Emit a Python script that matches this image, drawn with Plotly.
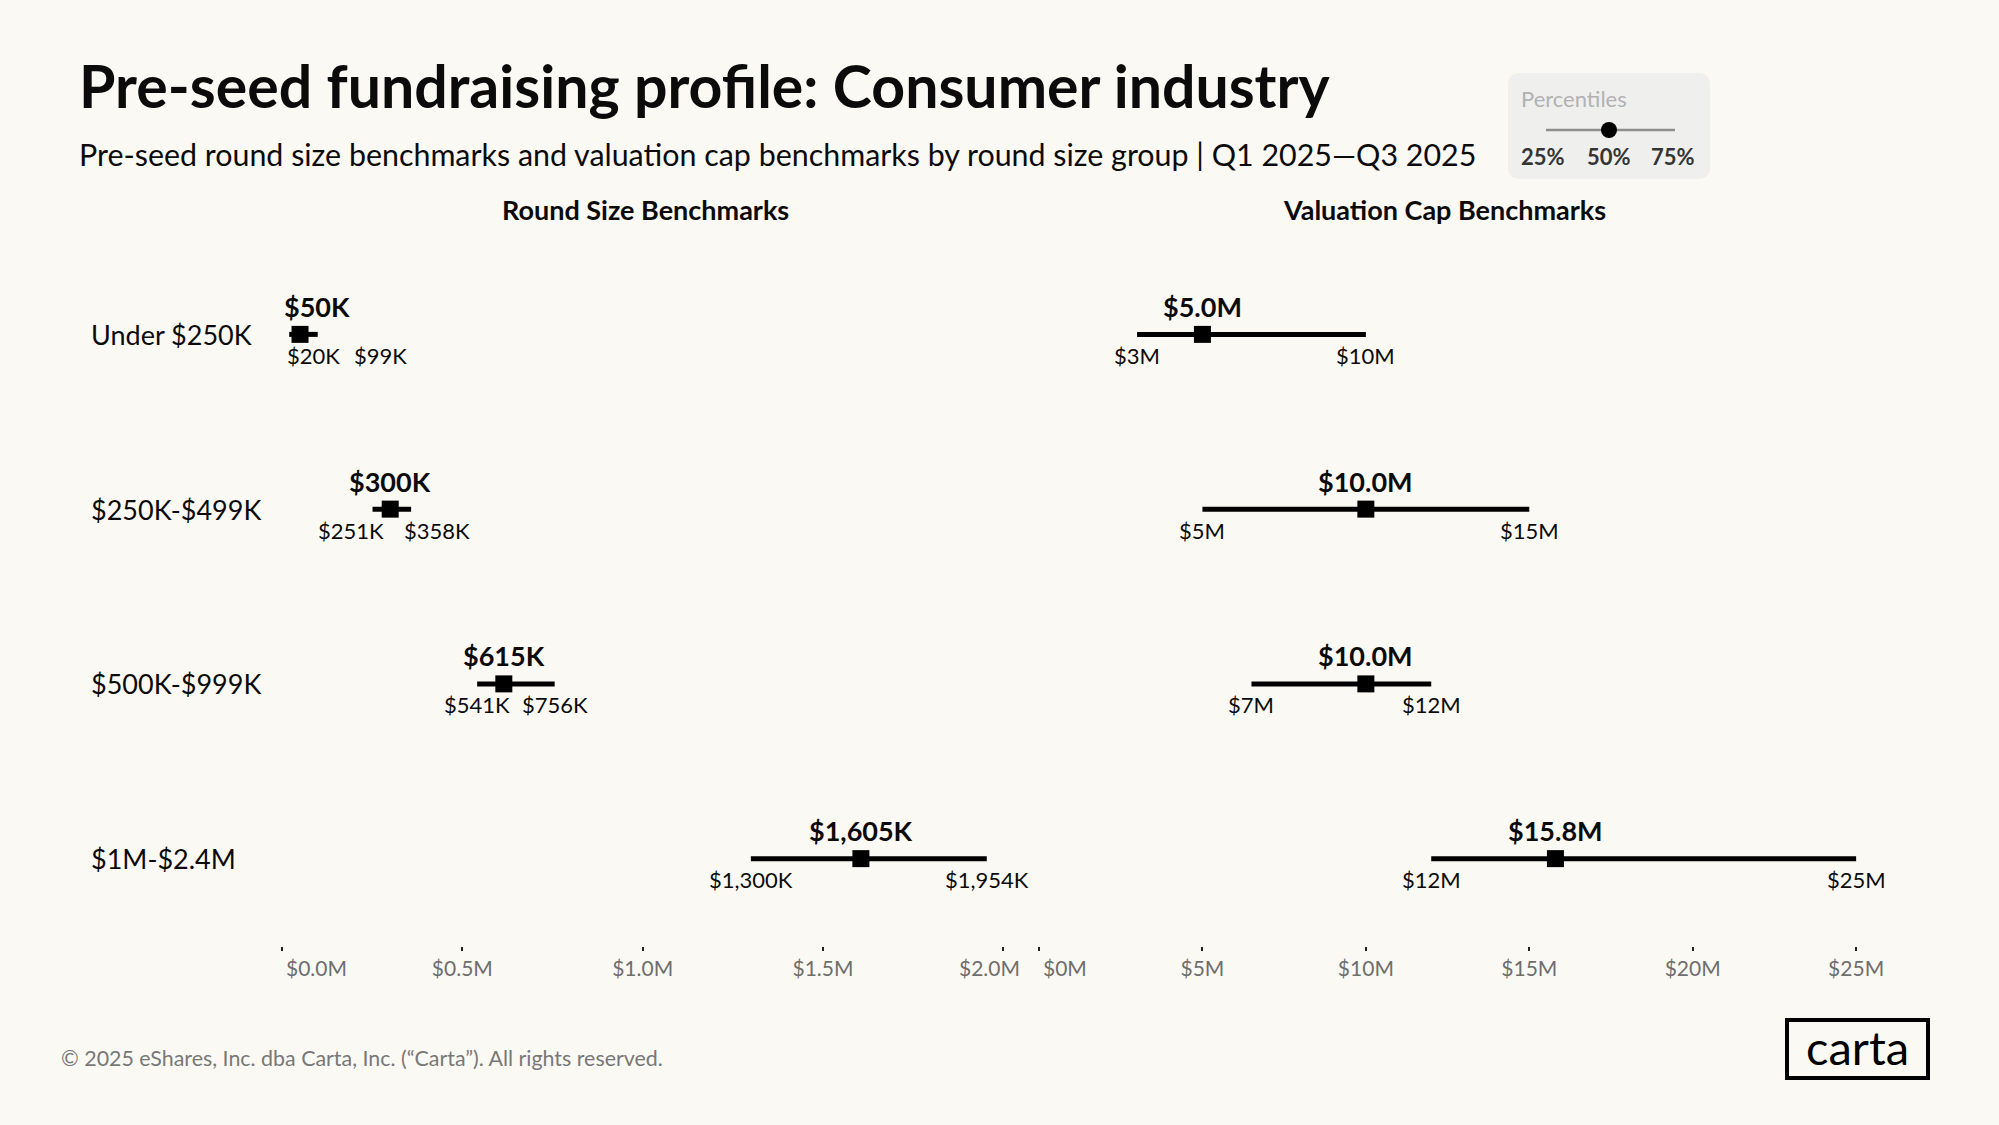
import plotly.graph_objects as go

# ---------------- data ----------------
segments = ["Under $250K", "$250K-$499K", "$500K-$999K", "$1M-$2.4M"]

# Round size benchmarks, in $K
round_p25 = [20, 251, 541, 1300]
round_p50 = [50, 300, 615, 1605]
round_p75 = [99, 358, 756, 1954]

# Valuation cap benchmarks, in $M
val_p25 = [3, 5, 6.5, 12]
val_p50 = [5.0, 10.0, 10.0, 15.8]
val_p75 = [10, 15, 12, 25]

round_ticks = [0, 500, 1000, 1500, 2000]
round_tick_text = ["$0.0M", "$0.5M", "$1.0M", "$1.5M", "$2.0M"]
val_ticks = [0, 5, 10, 15, 20, 25]
val_tick_text = ["$0M", "$5M", "$10M", "$15M", "$20M", "$25M"]

legend_labels = ["25%", "50%", "75%"]

# ---------------- layout helpers ----------------
W, H = 1999, 1125
BG = "#FBF9F4"
FONT = "Lato"
INK = "#0b0b0b"


def px(x):
    return x / W


def py(y):
    return 1 - y / H


def fmt_k(v):
    return f"${v:,}K"


def fmt_m1(v):
    return f"${v:.1f}M"


def fmt_m0(v):
    return f"${int(v + 0.5)}M"


rows = list(range(len(segments)))
round_max = max(round_p75) * 1.05
val_max = max(val_p75) * 1.05

fig = go.Figure()


def add_panel(lo, mid, hi, xa, ya):
    xs, ys = [], []
    for i, (a, b) in enumerate(zip(lo, hi)):
        xs += [a, b, None]
        ys += [i, i, None]
    fig.add_trace(go.Scatter(x=xs, y=ys, mode="lines",
                             line=dict(color="#000000", width=5),
                             xaxis=xa, yaxis=ya, hoverinfo="skip",
                             showlegend=False))
    fig.add_trace(go.Scatter(x=mid, y=rows, mode="markers",
                             marker=dict(symbol="square", size=17,
                                         color="#000000"),
                             xaxis=xa, yaxis=ya, showlegend=False))


add_panel(round_p25, round_p50, round_p75, "x", "y")
add_panel(val_p25, val_p50, val_p75, "x2", "y2")

ann = []

# label offsets (px) used to keep neighbouring labels apart / inside the axis
round_mid_style = [("left", -18), ("center", 0), ("center", 0), ("center", 0)]
round_lo_style = [("left", -4), ("right", 13), ("center", 0), ("center", 0)]
round_hi_style = [("left", 34), ("left", -9), ("center", 0), ("center", 0)]

MID_SHIFT = 28
LOW_SHIFT = -21
MID_FONT = dict(family=FONT, size=27, color=INK, weight="bold")
LOW_FONT = dict(family=FONT, size=22, color=INK)

for i in rows:
    a, s = round_mid_style[i]
    ann.append(dict(x=round_p50[i], y=i, xref="x", yref="y",
                    text=fmt_k(round_p50[i]), showarrow=False,
                    xanchor=a, xshift=s, yshift=MID_SHIFT, font=MID_FONT))
    a, s = round_lo_style[i]
    ann.append(dict(x=round_p25[i], y=i, xref="x", yref="y",
                    text=fmt_k(round_p25[i]), showarrow=False,
                    xanchor=a, xshift=s, yshift=LOW_SHIFT, font=LOW_FONT))
    a, s = round_hi_style[i]
    ann.append(dict(x=round_p75[i], y=i, xref="x", yref="y",
                    text=fmt_k(round_p75[i]), showarrow=False,
                    xanchor=a, xshift=s, yshift=LOW_SHIFT, font=LOW_FONT))

    ann.append(dict(x=val_p50[i], y=i, xref="x2", yref="y2",
                    text=fmt_m1(val_p50[i]), showarrow=False,
                    yshift=MID_SHIFT, font=MID_FONT))
    ann.append(dict(x=val_p25[i], y=i, xref="x2", yref="y2",
                    text=fmt_m0(val_p25[i]), showarrow=False,
                    yshift=LOW_SHIFT, font=LOW_FONT))
    ann.append(dict(x=val_p75[i], y=i, xref="x2", yref="y2",
                    text=fmt_m0(val_p75[i]), showarrow=False,
                    yshift=LOW_SHIFT, font=LOW_FONT))

    # row labels
    ann.append(dict(x=px(89), y=i, xref="paper", yref="y",
                    text=segments[i], showarrow=False, xanchor="left",
                    font=dict(family=FONT, size=27, color=INK)))

# axis end labels kept inside the axis extent
TICK_FONT = dict(family=FONT, size=21, color="#6e6e6e")
AX_BOTTOM = py(946)
ann.append(dict(x=round_ticks[0], y=AX_BOTTOM, xref="x", yref="paper",
                text=round_tick_text[0], showarrow=False, xanchor="left",
                yanchor="middle", xshift=2, yshift=-21, font=TICK_FONT))
ann.append(dict(x=round_max, y=AX_BOTTOM, xref="x", yref="paper",
                text=round_tick_text[-1], showarrow=False, xanchor="right",
                yanchor="middle", xshift=0, yshift=-21, font=TICK_FONT))
ann.append(dict(x=val_ticks[0], y=AX_BOTTOM, xref="x2", yref="paper",
                text=val_tick_text[0], showarrow=False, xanchor="left",
                yanchor="middle", xshift=2, yshift=-21, font=TICK_FONT))

# titles
ann.append(dict(x=px(77), y=py(86), xref="paper", yref="paper",
                text="Pre-seed fundraising profile: Consumer industry",
                showarrow=False, xanchor="left", yanchor="middle",
                font=dict(family=FONT, size=59, color=INK, weight="bold")))
ann.append(dict(x=px(77), y=py(154), xref="paper", yref="paper",
                text="Pre-seed round size benchmarks and valuation cap benchmarks by round size group | Q1 2025\u2014Q3 2025",
                showarrow=False, xanchor="left", yanchor="middle",
                font=dict(family=FONT, size=30.4, color=INK)))
ann.append(dict(x=px(645), y=py(209), xref="paper", yref="paper",
                text="Round Size Benchmarks", showarrow=False,
                xanchor="center", yanchor="middle",
                font=dict(family=FONT, size=27, color=INK, weight="bold")))
ann.append(dict(x=px(1444), y=py(209), xref="paper", yref="paper",
                text="Valuation Cap Benchmarks", showarrow=False,
                xanchor="center", yanchor="middle",
                font=dict(family=FONT, size=27, color=INK, weight="bold")))

# legend box
ann.append(dict(x=px(1519), y=py(99), xref="paper", yref="paper",
                text="Percentiles", showarrow=False, xanchor="left",
                yanchor="middle",
                font=dict(family=FONT, size=22, color="#b2b2b2")))
for lab, cx in zip(legend_labels, [1543, 1609, 1673]):
    ann.append(dict(x=px(cx), y=py(156), xref="paper", yref="paper",
                    text=lab, showarrow=False, xanchor="center",
                    yanchor="middle",
                    font=dict(family=FONT, size=22, color="#353535",
                              weight="bold")))

# footer & logo
ann.append(dict(x=px(59), y=py(1058), xref="paper", yref="paper",
                text="\u00a9 2025 eShares, Inc. dba Carta, Inc. (\u201cCarta\u201d). All rights reserved.",
                showarrow=False, xanchor="left", yanchor="middle",
                font=dict(family=FONT, size=21.4, color="#787878")))
ann.append(dict(x=px(1857), y=py(1047), xref="paper", yref="paper",
                text="carta", showarrow=False, xanchor="center",
                yanchor="middle",
                font=dict(family=FONT, size=47, color="#000000")))

# shapes
def rounded_rect(x0, y0, x1, y1, r):
    X0, X1 = px(x0), px(x1)
    Y0, Y1 = py(y0), py(y1)
    rx, ry = r / W, r / H
    return (f"M {X0+rx},{Y0} L {X1-rx},{Y0} Q {X1},{Y0} {X1},{Y0-ry} "
            f"L {X1},{Y1+ry} Q {X1},{Y1} {X1-rx},{Y1} L {X0+rx},{Y1} "
            f"Q {X0},{Y1} {X0},{Y1+ry} L {X0},{Y0-ry} Q {X0},{Y0} {X0+rx},{Y0} Z")


shapes = [
    dict(type="path", xref="paper", yref="paper",
         path=rounded_rect(1508, 73, 1710, 179, 12),
         fillcolor="#EFEFEE", line=dict(width=0), layer="below"),
    dict(type="line", xref="paper", yref="paper",
         x0=px(1546), x1=px(1675), y0=py(130), y1=py(130),
         line=dict(color="#8e8e8e", width=2.5)),
    dict(type="circle", xref="paper", yref="paper",
         x0=px(1601), x1=px(1617), y0=py(122), y1=py(138),
         fillcolor="#000000", line=dict(width=0)),
    dict(type="rect", xref="paper", yref="paper",
         x0=px(1787), x1=px(1928), y0=py(1020), y1=py(1078),
         fillcolor="rgba(0,0,0,0)", line=dict(color="#000000", width=4)),
]

axis_common = dict(showgrid=False, zeroline=False, showline=False,
                   ticks="outside", ticklen=4, tickwidth=1.5,
                   tickcolor="#222222", tickfont=TICK_FONT,
                   fixedrange=True)

fig.update_layout(
    width=W, height=H,
    margin=dict(l=0, r=0, t=0, b=0),
    paper_bgcolor=BG, plot_bgcolor=BG,
    showlegend=False,
    font=dict(family=FONT, color=INK),
    xaxis=dict(domain=[px(282), px(1022)], range=[0, round_max],
               tickvals=round_ticks,
               ticktext=[""] + round_tick_text[1:-1] + [""],
               anchor="y", **axis_common),
    yaxis=dict(domain=[py(946), py(247)], range=[len(segments) - 0.5, -0.5],
               visible=False, anchor="x", fixedrange=True),
    xaxis2=dict(domain=[px(1039), px(1897)], range=[0, val_max],
                tickvals=val_ticks,
                ticktext=[""] + val_tick_text[1:],
                anchor="y2", **axis_common),
    yaxis2=dict(domain=[py(946), py(247)], range=[len(segments) - 0.5, -0.5],
                visible=False, anchor="x2", fixedrange=True),
    annotations=ann,
    shapes=shapes,
)

fig.write_html("out.html", config={"displayModeBar": False},
               post_script="document.body.style.margin='0';document.body.style.overflow='hidden';")
